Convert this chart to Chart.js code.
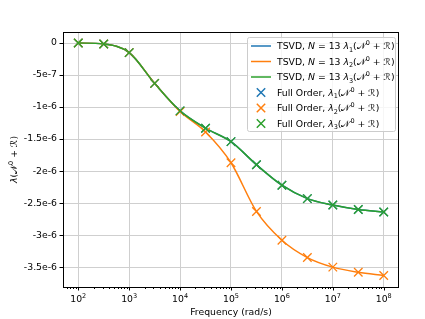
<!DOCTYPE html>
<html><head><meta charset="utf-8">
<script src="https://cdn.jsdelivr.net/npm/chart.js@4/dist/chart.umd.min.js"></script>
<style>html,body{margin:0;padding:0;background:#fff}#wrap{width:425px;height:319px}</style>
</head><body><div id="wrap"><canvas id="c" width="425" height="319"></canvas></div>
<script>
// ---- data ----
const frequencies = [1e2, 3.1623e2, 1e3, 3.1623e3, 1e4, 3.1623e4, 1e5, 3.1623e5, 1e6, 3.1623e6, 1e7, 3.1623e7, 1e8];
const lambda1 = [0, -0.016e-6, -0.15e-6, -0.63e-6, -1.06e-6, -1.33e-6, -1.54e-6, -1.90e-6, -2.22e-6, -2.43e-6, -2.53e-6, -2.60e-6, -2.64e-6];
const lambda2 = [0, -0.016e-6, -0.15e-6, -0.63e-6, -1.07e-6, -1.39e-6, -1.87e-6, -2.63e-6, -3.08e-6, -3.35e-6, -3.50e-6, -3.58e-6, -3.63e-6];
const lambda3 = [0, -0.016e-6, -0.15e-6, -0.63e-6, -1.06e-6, -1.33e-6, -1.54e-6, -1.90e-6, -2.22e-6, -2.43e-6, -2.53e-6, -2.60e-6, -2.64e-6];
const yTickValues = [0, -5e-7, -1e-6, -1.5e-6, -2e-6, -2.5e-6, -3e-6, -3.5e-6];
const yTickLabels = ['0', '-5e-7', '-1e-6', '-1.5e-6', '-2e-6', '-2.5e-6', '-3e-6', '-3.5e-6'];
const xMajorExponents = [2, 3, 4, 5, 6, 7, 8];
const seriesColors = ['#1f77b4', '#ff7f0e', '#2ca02c'];
const seriesSubs = ['1', '2', '3'];

// ---- helpers ----
const FS = 9.3;
const FAM = '"DejaVu Sans", sans-serif';
const fN = (s) => `${s}px ${FAM}`;
const fI = (s) => `oblique ${s}px ${FAM}`;
function pts(vals){ return frequencies.map((f,i)=>({x:f, y:vals[i]})); }
function drawRich(ctx, x, y, segs){
  for (const s of segs){ ctx.font = s.font; ctx.fillText(s.t, x, y + (s.dy||0)); x += ctx.measureText(s.t).width; }
  return x;
}
function richWidth(ctx, segs){ let w=0; for (const s of segs){ ctx.font=s.font; w+=ctx.measureText(s.t).width; } return w; }
function mathSegs(sub){
  const segs = [{t:'λ', font:fI(FS)}];
  if (sub) segs.push({t:sub, font:fN(FS*0.7), dy:2.2});
  segs.push({t:'(', font:fN(FS)},{t:'𝒩', font:fN(FS)},{t:'0', font:fN(FS*0.7), dy:-4},
            {t:' + ', font:fN(FS)},{t:'ℛ', font:fN(FS)},{t:')', font:fN(FS)});
  return segs;
}

const allSets = [lambda1, lambda2, lambda3];
const datasets = [];
allSets.forEach((vals, i) => datasets.push({
  data: pts(vals), borderColor: seriesColors[i], backgroundColor: seriesColors[i],
  borderWidth: 1.5, pointRadius: 0, showLine: true, cubicInterpolationMode: 'monotone', order: 6 - i
}));
allSets.forEach((vals, i) => datasets.push({
  data: pts(vals), borderColor: seriesColors[i], backgroundColor: seriesColors[i],
  borderWidth: 1.3, pointRadius: 6, pointStyle: 'crossRot', showLine: false, order: 3 - i
}));

const decor = {
  id: 'decor',
  afterDraw(chart){
    const ctx = chart.ctx, a = chart.chartArea, xs = chart.scales.x, ys = chart.scales.y;
    ctx.save();
    // spines
    ctx.strokeStyle = '#000'; ctx.lineWidth = 1;
    ctx.strokeRect(Math.round(a.left)+0.5, Math.round(a.top)+0.5, Math.round(a.right-a.left)-1, Math.round(a.bottom-a.top));
    // y ticks
    ctx.beginPath();
    yTickValues.forEach(v => { const y = Math.round(ys.getPixelForValue(v))+0.5; ctx.moveTo(a.left, y); ctx.lineTo(a.left-3.5, y); });
    // x ticks
    const lo = Math.floor(Math.log10(xs.min)), hi = Math.ceil(Math.log10(xs.max));
    for (let e = lo; e <= hi; e++){
      for (let m = 1; m <= 9; m++){
        const v = m*Math.pow(10,e);
        if (v < xs.min || v > xs.max) continue;
        const x = Math.round(xs.getPixelForValue(v))+0.5;
        ctx.moveTo(x, a.bottom); ctx.lineTo(x, a.bottom + (m===1 ? 3.5 : 2));
      }
    }
    ctx.stroke();
    // x tick labels
    ctx.fillStyle = '#000'; ctx.textBaseline = 'alphabetic'; ctx.textAlign = 'left';
    xMajorExponents.forEach(e => {
      const segs = [{t:'10', font:fN(FS)},{t:String(e), font:fN(FS*0.7), dy:-4}];
      const w = richWidth(ctx, segs);
      const x = xs.getPixelForValue(Math.pow(10,e));
      drawRich(ctx, x - w/2, a.bottom + 14.5, segs);
    });
    // x title
    ctx.font = fN(FS); ctx.textAlign = 'center';
    ctx.fillText('Frequency (rad/s)', (a.left+a.right)/2, a.bottom + 28);
    // y title
    ctx.save();
    ctx.translate(17, (a.top+a.bottom)/2); ctx.rotate(-Math.PI/2);
    ctx.textAlign = 'left';
    const ysegs = mathSegs('');
    drawRich(ctx, -richWidth(ctx, ysegs)/2, 0, ysegs);
    ctx.restore();
    // legend
    const bx = 247, by = 37, bw = 148, bh = 94;
    ctx.fillStyle = 'rgba(255,255,255,0.8)'; ctx.strokeStyle = '#cccccc'; ctx.lineWidth = 1;
    ctx.beginPath(); ctx.roundRect(bx+0.5, by+0.5, bw, bh, 2); ctx.fill(); ctx.stroke();
    ctx.textAlign = 'left'; ctx.textBaseline = 'alphabetic';
    for (let r = 0; r < 6; r++){
      const cy = by + 9 + r*15.5;
      const k = r % 3;
      ctx.strokeStyle = seriesColors[k]; ctx.lineWidth = 1.5;
      ctx.beginPath();
      if (r < 3){ ctx.moveTo(bx+4, cy); ctx.lineTo(bx+24, cy); }
      else { const d = 4.2; ctx.moveTo(bx+14-d, cy-d); ctx.lineTo(bx+14+d, cy+d); ctx.moveTo(bx+14-d, cy+d); ctx.lineTo(bx+14+d, cy-d); }
      ctx.stroke();
      ctx.fillStyle = '#000';
      const segs = r < 3
        ? [{t:'TSVD, ', font:fN(FS)},{t:'N', font:fI(FS)},{t:' = 13 ', font:fN(FS)}].concat(mathSegs(seriesSubs[k]))
        : [{t:'Full Order, ', font:fN(FS)}].concat(mathSegs(seriesSubs[k]));
      drawRich(ctx, bx+30, cy+3.3, segs);
    }
    ctx.restore();
  }
};

new Chart(document.getElementById('c'), {
  type: 'line',
  data: { datasets },
  options: {
    responsive: false, animation: false, devicePixelRatio: 1,
    layout: { padding: { top: 32, right: 26, left: 0, bottom: 0 } },
    plugins: { legend: { display: false }, tooltip: { enabled: false } },
    scales: {
      x: {
        type: 'logarithmic', min: Math.pow(10, 1.7), max: Math.pow(10, 8.3),
        afterBuildTicks: s => { s.ticks = xMajorExponents.map(e => ({ value: Math.pow(10, e) })); },
        afterFit: s => { s.height = 32; },
        ticks: { display: false },
        grid: { color: '#cfcfcf', lineWidth: 1, drawTicks: false },
        border: { display: false }
      },
      y: {
        type: 'linear', min: -3.81e-6, max: 1.72e-7,
        afterBuildTicks: s => { s.ticks = yTickValues.map(v => ({ value: v })); },
        afterFit: s => { s.width = 63; },
        ticks: { callback: (v, i) => yTickLabels[i], font: { family: 'DejaVu Sans', size: FS }, color: '#000', padding: 6 },
        grid: { color: '#cfcfcf', lineWidth: 1, drawTicks: false },
        border: { display: false }
      }
    }
  },
  plugins: [decor]
});
</script></body></html>
